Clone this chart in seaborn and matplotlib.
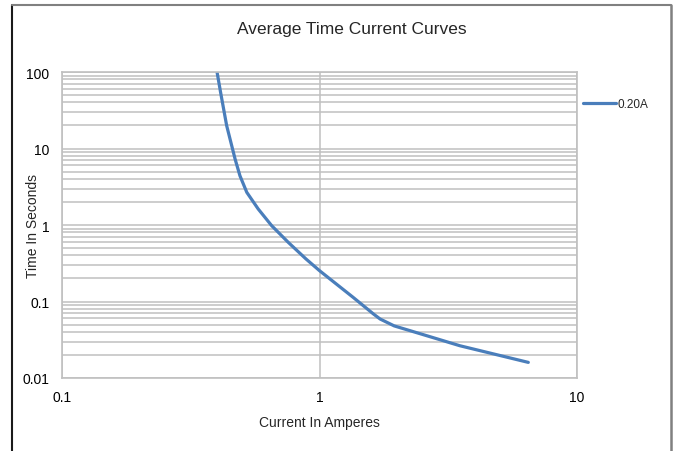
import matplotlib
matplotlib.use('Agg')
import matplotlib.pyplot as plt
import seaborn as sns
from matplotlib.ticker import FixedLocator, NullFormatter, NullLocator
from matplotlib.lines import Line2D

# values (log-log)
current = [0.40, 0.413, 0.436, 0.470, 0.491, 0.522, 0.578, 0.652, 0.756, 0.886,
           1.0, 1.35, 1.62, 1.72, 1.95, 2.61, 3.51, 6.47]
time_s = [100, 54, 19.9, 7.3, 4.4, 2.67, 1.62, 0.98, 0.594, 0.36,
          0.253, 0.1135, 0.0687, 0.059, 0.048, 0.0357, 0.0264, 0.016]
series_name = '0.20A'

x_ticks = [0.1, 1, 10]
x_labels = ['0.1', '1', '10']
y_ticks = [0.01, 0.1, 1, 10, 100]
y_labels = ['0.01', '0.1', '1', '10', '100']
y_minor = [k * 10.0 ** e for e in range(-2, 2) for k in range(2, 10)]

sns.set_style('white')
plt.rcParams['font.family'] = ['Liberation Sans', 'DejaVu Sans']

fig = plt.figure(figsize=(6.74, 4.52), dpi=100)
ax = fig.add_axes([62 / 674, 1 - 379 / 452, 515 / 674, 306 / 452])

sns.lineplot(x=current, y=time_s, ax=ax, color='#4a7ebb', linewidth=2.3,
             label=series_name, sort=False, estimator=None)
ax.lines[0].set_solid_joinstyle('round')

ax.set_xscale('log')
ax.set_yscale('log')
ax.set_xlim(0.1, 10)
ax.set_ylim(0.01, 100)

ax.set_xticks(x_ticks, x_labels)
ax.set_yticks(y_ticks, y_labels)
ax.xaxis.set_minor_locator(NullLocator())
ax.yaxis.set_minor_locator(FixedLocator(y_minor))
ax.yaxis.set_minor_formatter(NullFormatter())

ax.set_axisbelow(True)
ax.grid(which='both', axis='y', color='#c0c0c0', linewidth=1.1)
ax.grid(which='major', axis='x', color='#c0c0c0', linewidth=1.1)
for s in ax.spines.values():
    s.set_color('#c0c0c0')
    s.set_linewidth(1.2)

ax.tick_params(which='both', length=0, labelsize=10, pad=9, colors='black')

ax.set_xlabel('Current In Amperes', fontsize=10)
ax.xaxis.set_label_coords(0.5, -0.144)
ax.xaxis.label.set_va('center')
ax.set_ylabel('Time In Seconds', fontsize=10)
ax.yaxis.set_label_coords(-0.056, 0.5)
ax.yaxis.label.set_va('center')

fig.text(352 / 674, 1 - 29.5 / 452, 'Average Time Current Curves', fontsize=12.5,
         ha='center', va='center')

ax.legend(loc='center left', bbox_to_anchor=(583 / 674, 1 - 105 / 452),
          bbox_transform=fig.transFigure, frameon=False, fontsize=8.5,
          handlelength=2.8, handletextpad=0.1, borderpad=0, borderaxespad=0)

# chart frame (left, top, right edges visible)
W, H = 674, 452
fig.add_artist(Line2D([11.5 / W, 11.5 / W], [0, 1 - 5.5 / H], transform=fig.transFigure,
                      color='#1a1a1a', linewidth=1.5))
fig.add_artist(Line2D([11.5 / W, 671 / W], [1 - 5.5 / H, 1 - 5.5 / H], transform=fig.transFigure,
                      color='#808080', linewidth=1.5))
fig.add_artist(Line2D([671 / W, 671 / W], [0, 1 - 5.5 / H], transform=fig.transFigure,
                      color='#808080', linewidth=1.8))

fig.savefig('out.png', dpi=100)
